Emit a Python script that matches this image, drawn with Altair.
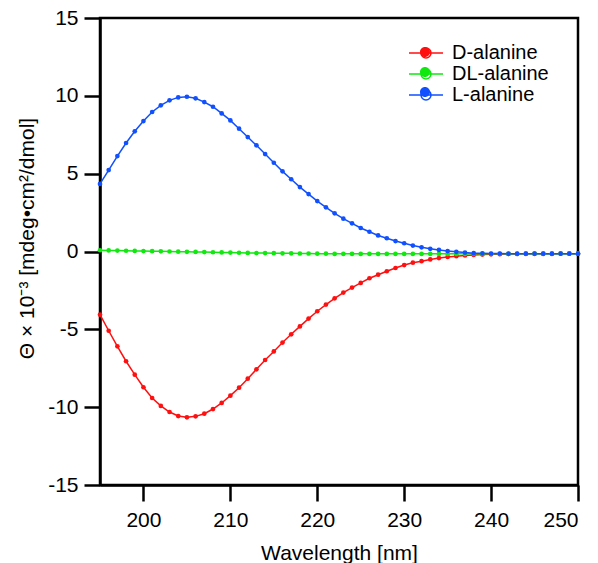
import altair as alt
import pandas as pd

wavelength = list(range(195, 251))

d_alanine = [-4.06, -5.09, -6.09, -7.05, -7.91, -8.72, -9.41, -9.92, -10.31, -10.57,
             -10.65, -10.59, -10.42, -10.12, -9.73, -9.26, -8.75, -8.17, -7.57, -6.97,
             -6.42, -5.85, -5.32, -4.81, -4.31, -3.84, -3.41, -3.01, -2.64, -2.32,
             -2.02, -1.72, -1.49, -1.27, -1.06, -0.87, -0.72, -0.62, -0.51, -0.42,
             -0.35, -0.30, -0.25, -0.22, -0.20, -0.18, -0.17, -0.16, -0.16, -0.15,
             -0.15, -0.15, -0.15, -0.14, -0.14, -0.14]

dl_alanine = [0.08, 0.07, 0.06, 0.05, 0.04, 0.03, 0.02, 0.01, 0.00, -0.01,
              -0.02, -0.03, -0.04, -0.05, -0.06, -0.07, -0.08, -0.09, -0.10, -0.10,
              -0.11, -0.12, -0.12, -0.13, -0.13, -0.14, -0.14, -0.15, -0.15, -0.15,
              -0.15, -0.15, -0.15, -0.15, -0.15, -0.15, -0.15, -0.15, -0.15, -0.15,
              -0.15, -0.15, -0.15, -0.15, -0.15, -0.15, -0.15, -0.15, -0.15, -0.14,
              -0.14, -0.14, -0.14, -0.14, -0.14, -0.14]

l_alanine = [4.34, 5.23, 6.13, 6.97, 7.72, 8.38, 8.96, 9.39, 9.71, 9.90,
             9.94, 9.84, 9.60, 9.30, 8.87, 8.42, 7.89, 7.35, 6.82, 6.26,
             5.70, 5.15, 4.64, 4.14, 3.69, 3.24, 2.84, 2.45, 2.11, 1.81,
             1.51, 1.27, 1.03, 0.85, 0.67, 0.53, 0.38, 0.27, 0.17, 0.10,
             0.03, -0.02, -0.07, -0.11, -0.12, -0.13, -0.13, -0.14, -0.14, -0.14,
             -0.14, -0.14, -0.14, -0.14, -0.14, -0.14]

series_names = ["D-alanine", "DL-alanine", "L-alanine"]
series_colors = ["#ff1010", "#10e810", "#1050ff"]
x_ticks = [200, 210, 220, 230, 240, 250]
y_ticks = [-15, -10, -5, 0, 5, 10, 15]

rows = []
for name, vals in zip(series_names, [d_alanine, dl_alanine, l_alanine]):
    for w, v in zip(wavelength, vals):
        rows.append({"wavelength": w, "theta": v, "series": name})
df = pd.DataFrame(rows)

FONT = "Liberation Sans"

color_scale = alt.Scale(domain=series_names, range=series_colors)

legend_path = "M-1.7,0L1.7,0M-0.5,0A0.5,0.5,0,1,1,0.5,0A0.5,0.5,0,1,1,-0.5,0Z"

def make_legend(show_labels, stroke_width):
    kw = {}
    if not show_labels:
        kw["labelExpr"] = "''"
    return alt.Legend(
        title=None, orient="none", legendX=315, legendY=24,
        symbolType=legend_path, symbolSize=400, symbolStrokeWidth=stroke_width,
        symbolOpacity=1, labelFontSize=20, labelFont=FONT, labelColor="black",
        labelOffset=15, padding=0, rowPadding=0, **kw)

x_enc = alt.X("wavelength:Q",
              scale=alt.Scale(domain=[195, 250], nice=False, zero=False),
              axis=alt.Axis(values=x_ticks, title="Wavelength [nm]", labelPadding=8,
                            titlePadding=12))
y_enc = alt.Y("theta:Q",
              scale=alt.Scale(domain=[-15, 15], nice=False),
              axis=alt.Axis(values=y_ticks, title="Θ × 10⁻³ [mdeg•cm²/dmol]",
                            labelPadding=6, titlePadding=10, titleY=220,
                            labelExpr="'' + datum.value"))

lines = alt.Chart(df).mark_line(strokeWidth=1.5).encode(
    x=x_enc, y=y_enc,
    color=alt.Color("series:N", scale=color_scale, legend=make_legend(True, 1.5)),
)

points = alt.Chart(df).mark_circle(size=22, opacity=1).encode(
    x="wavelength:Q", y="theta:Q",
    color=alt.Color("series:N", scale=color_scale, legend=make_legend(False, 0)),
)

chart = alt.layer(lines, points).resolve_legend(color="independent").properties(
    width=478, height=467,
    autosize=alt.AutoSizeParams(type="none"),
    padding={"left": 100, "top": 18, "right": 20, "bottom": 78},
).configure(
    background="white"
).configure_view(
    stroke="black", strokeWidth=2.5
).configure_axis(
    grid=False, domainColor="black", domainWidth=2.5, tickColor="black",
    tickWidth=2.5, tickSize=16, labelFont=FONT, labelFontSize=21,
    labelColor="black", titleFont=FONT, titleFontSize=21, titleColor="black",
    titleFontWeight="normal"
)

chart.save("out.html", embed_options={"renderer": "svg", "actions": False})
